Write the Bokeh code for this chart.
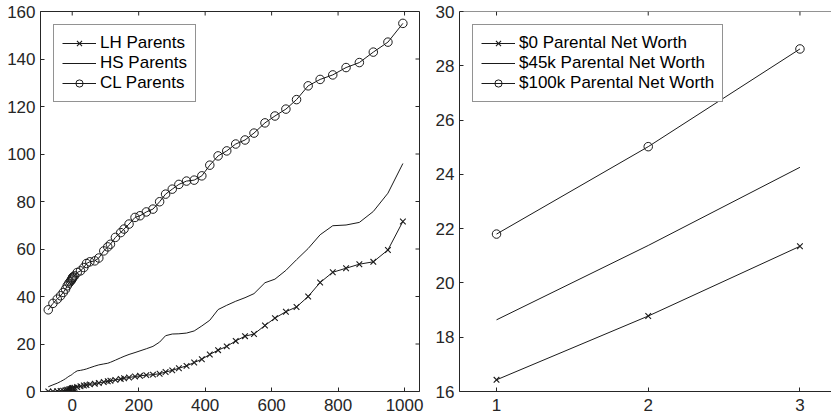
import math
from bokeh.plotting import figure
from bokeh.models import LinearAxis, FixedTicker, Legend, LegendItem, Range1d
from bokeh.layouts import row
from bokeh.embed import file_html
from bokeh.resources import INLINE

# ---------------- data (left panel) ----------------
x_vals = [-72, -58, -45, -35, -27, -20, -15, -10, -6, -3,
          -1, 0, 1, 3, 7, 15, 25, 35, 43, 53,
          68, 80, 95, 107, 115, 130, 146, 156, 171, 189,
          204, 223, 243, 263, 281, 301, 321, 344, 367, 390,
          414, 439, 465, 492, 520, 547, 580, 610, 643, 675,
          710, 746, 784, 824, 864, 906, 950, 995]

lh_parents = [0.0, 0.0, 0.1, 0.2, 0.3, 0.5, 0.7, 0.9, 1.0, 1.1,
              1.2, 1.3, 1.4, 1.5, 1.6, 1.9, 2.2, 2.5, 2.7, 3.0,
              3.3, 3.6, 4.0, 4.3, 4.5, 4.9, 5.3, 5.6, 5.9, 6.3,
              6.6, 6.9, 7.1, 7.5, 8.2, 8.9, 9.8, 10.8, 12.2, 13.6,
              15.6, 17.4, 19.0, 21.3, 23.3, 24.2, 27.8, 30.9, 33.6, 35.6,
              40.0, 45.9, 50.2, 51.9, 53.6, 54.6, 59.6, 71.6]

hs_parents = [2.0, 2.8, 3.5, 4.2, 4.8, 5.4, 5.9, 6.4, 6.7, 6.9,
              7.1, 7.3, 7.4, 7.6, 8.0, 8.7, 8.9, 9.2, 9.5, 10.0,
              10.7, 11.2, 11.6, 11.9, 12.3, 13.2, 14.2, 14.8, 15.6, 16.4,
              17.1, 18.0, 19.0, 20.8, 23.5, 24.2, 24.3, 24.6, 25.5, 27.6,
              30.0, 34.5, 36.3, 38.0, 39.5, 41.2, 45.8, 47.3, 51.0, 55.5,
              60.2, 66.0, 69.8, 70.1, 71.2, 75.8, 83.5, 96.0]

cl_parents = [34.4, 37.1, 38.9, 40.3, 41.7, 43.1, 44.5, 45.6, 46.3, 46.8,
              47.2, 47.6, 48.0, 48.3, 48.7, 50.1, 50.8, 52.2, 53.9, 54.6,
              55.0, 56.2, 59.2, 60.9, 62.0, 64.9, 66.9, 68.4, 70.5, 73.3,
              74.0, 75.6, 76.8, 79.9, 83.1, 85.2, 87.2, 88.6, 89.0, 90.8,
              95.3, 99.2, 101.3, 104.2, 105.9, 108.8, 113.1, 116.0, 118.9, 122.9,
              128.7, 131.4, 133.3, 136.4, 138.5, 142.9, 147.1, 155.0]

left_xticks = [0, 200, 400, 600, 800, 1000]
left_yticks = [0, 20, 40, 60, 80, 100, 120, 140, 160]
left_labels = ["LH Parents", "HS Parents", "CL Parents"]
left_xlim = (-95.4, 1045)
left_ylim = (0, 160)

# ---------------- data (right panel) ----------------
x_right = [1, 2, 3]
nw_0 = [16.43, 18.78, 21.35]
nw_45k = [18.64, 21.38, 24.26]
nw_100k = [21.80, 25.02, 28.62]

right_xticks = [1, 2, 3]
right_yticks = [16, 18, 20, 22, 24, 26, 28, 30]
right_labels = ["$0 Parental Net Worth", "$45k Parental Net Worth", "$100k Parental Net Worth"]
right_xlim = (0.756, 3.208)
right_ylim = (16, 30)

# ---------------- styling ----------------
TXT = "#262626"
LINE = "#1a1a1a"
FONT = "Liberation Sans"
FS = "17px"
H = 418


def add_axis(p, side, ticks):
    ax = LinearAxis(ticker=FixedTicker(ticks=ticks))
    ax.major_tick_in = 4
    ax.major_tick_out = 0
    ax.minor_tick_line_color = None
    ax.axis_line_color = TXT
    ax.major_tick_line_color = TXT
    ax.major_label_text_font = FONT
    ax.major_label_text_color = TXT
    ax.major_label_text_font_size = FS
    ax.major_label_standoff = 7 if side == "below" else 5
    p.add_layout(ax, side)
    return ax


def make_legend(items):
    return Legend(items=items, location="top_left", margin=13,
                  padding=8, spacing=0, glyph_width=34, glyph_height=18,
                  label_height=18, label_standoff=4,
                  label_text_font=FONT, label_text_font_size=FS,
                  label_text_color="#000000",
                  border_line_color=TXT, border_line_width=1,
                  background_fill_color="white", background_fill_alpha=1.0)


# ---------------- left figure ----------------
p1 = figure(width=427, height=H,
            x_range=Range1d(*left_xlim), y_range=Range1d(*left_ylim),
            x_axis_type=None, y_axis_type=None,
            output_backend="svg", toolbar_location=None,
            min_border_left=40, min_border_right=8,
            min_border_top=11, min_border_bottom=27)
p1.outline_line_color = TXT
p1.outline_line_width = 1
p1.background_fill_color = "white"
p1.border_fill_color = "white"

add_axis(p1, "left", left_yticks)
add_axis(p1, "below", left_xticks)
# inward ticks on the top and right edges of the box
p1.ray(x=left_xticks, y=[left_ylim[1]] * len(left_xticks), length=4,
       angle=-math.pi / 2, length_units="screen", line_color=TXT, line_width=1)
p1.ray(x=[left_xlim[1]] * len(left_yticks), y=left_yticks, length=4,
       angle=math.pi, length_units="screen", line_color=TXT, line_width=1)

r_lh = p1.line(x_vals, lh_parents, line_color=LINE, line_width=1)
r_lh_m = p1.scatter(x_vals, lh_parents, marker="x", size=8, line_color=LINE, line_width=1.1)
r_hs = p1.line(x_vals, hs_parents, line_color=LINE, line_width=1)
r_cl = p1.line(x_vals, cl_parents, line_color=LINE, line_width=1)
r_cl_m = p1.scatter(x_vals, cl_parents, marker="circle", size=8.5,
                    fill_color=None, line_color=LINE, line_width=1)

p1.add_layout(make_legend([
    LegendItem(label=left_labels[0], renderers=[r_lh, r_lh_m]),
    LegendItem(label=left_labels[1], renderers=[r_hs]),
    LegendItem(label=left_labels[2], renderers=[r_cl, r_cl_m]),
]))

# ---------------- right figure ----------------
p2 = figure(width=404, height=H,
            x_range=Range1d(*right_xlim), y_range=Range1d(*right_ylim),
            x_axis_type=None, y_axis_type=None,
            output_backend="svg", toolbar_location=None,
            min_border_left=32, min_border_right=0,
            min_border_top=11, min_border_bottom=27)
p2.outline_line_color = None
p2.background_fill_color = "white"
p2.border_fill_color = "white"

add_axis(p2, "left", right_yticks)
add_axis(p2, "below", right_xticks)
# top edge line with inward ticks
p2.segment(x0=[right_xlim[0]], y0=[right_ylim[1]], x1=[right_xlim[1]], y1=[right_ylim[1]],
           line_color=TXT, line_width=1)
p2.ray(x=right_xticks, y=[right_ylim[1]] * len(right_xticks), length=4,
       angle=-math.pi / 2, length_units="screen", line_color=TXT, line_width=1)

r0 = p2.line(x_right, nw_0, line_color=LINE, line_width=1)
r0_m = p2.scatter(x_right, nw_0, marker="x", size=8, line_color=LINE, line_width=1.1)
r45 = p2.line(x_right, nw_45k, line_color=LINE, line_width=1)
r100 = p2.line(x_right, nw_100k, line_color=LINE, line_width=1)
r100_m = p2.scatter(x_right, nw_100k, marker="circle", size=8.5,
                    fill_color=None, line_color=LINE, line_width=1)

p2.add_layout(make_legend([
    LegendItem(label=right_labels[0], renderers=[r0, r0_m]),
    LegendItem(label=right_labels[1], renderers=[r45]),
    LegendItem(label=right_labels[2], renderers=[r100, r100_m]),
]))

layout = row(p1, p2, spacing=0)

open("out.html", "w").write(file_html(layout, INLINE))
